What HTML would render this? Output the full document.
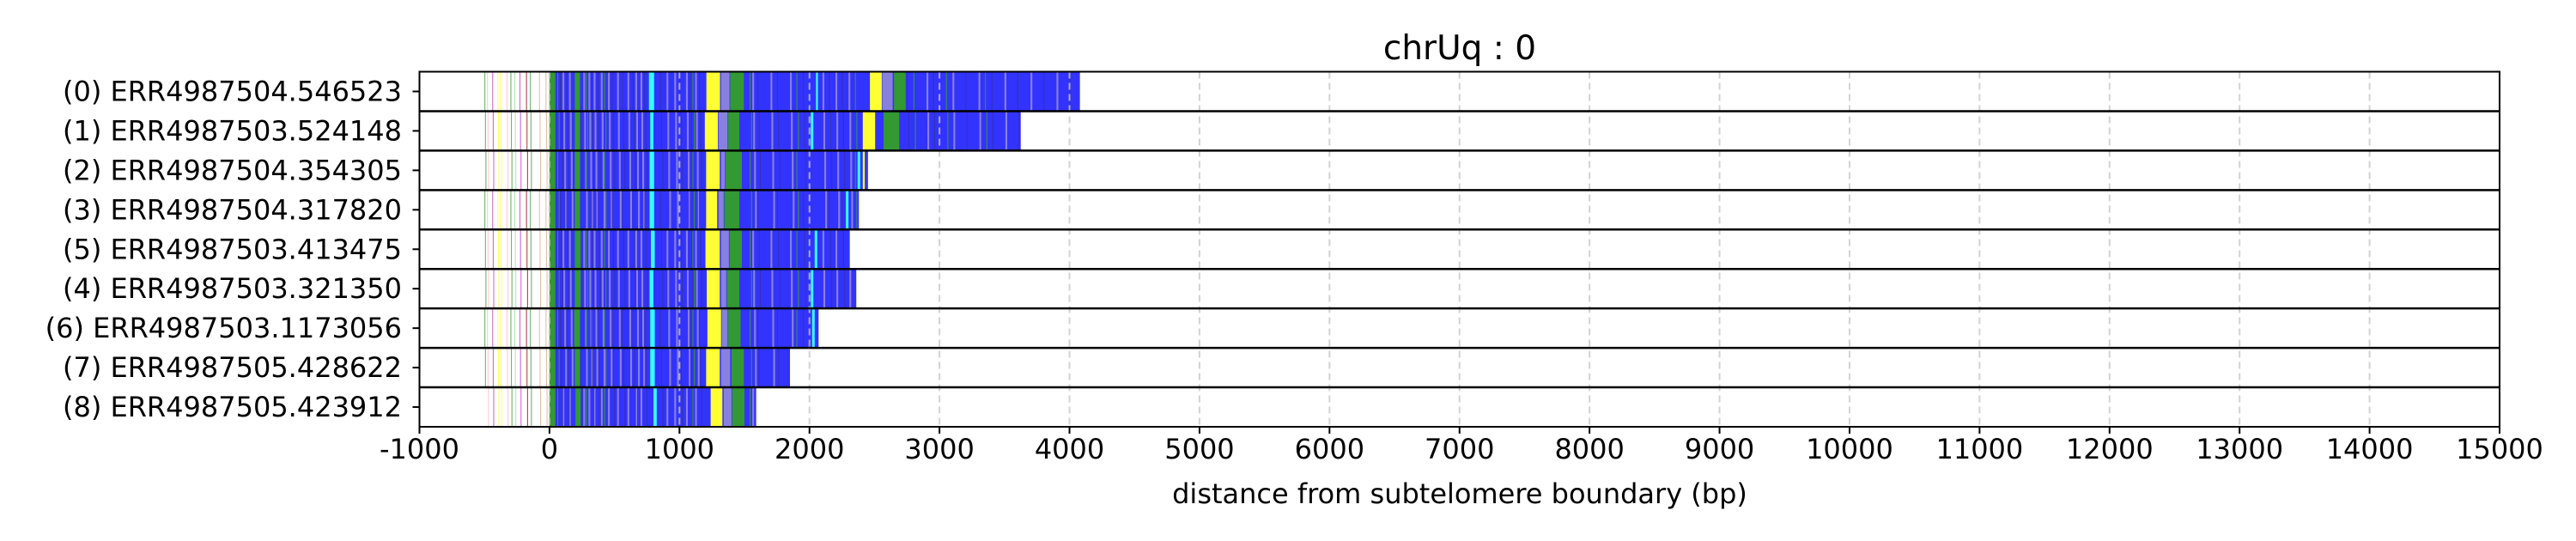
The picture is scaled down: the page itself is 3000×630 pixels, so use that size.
<!DOCTYPE html>
<html><head><meta charset="utf-8"><style>
html,body{margin:0;padding:0;background:#fff;}
svg{display:block;font-family:"DejaVu Sans","Liberation Sans",sans-serif;}
</style></head><body>
<svg id="chart" width="3000" height="630" viewBox="0 0 3000 630" xmlns="http://www.w3.org/2000/svg">
<text x="1700" y="69" font-size="39" text-anchor="middle">chrUq : 0</text>
<text x="1700" y="586" font-size="32" text-anchor="middle">distance from subtelomere boundary (bp)</text>
<g id="bars"></g><g id="grid"></g><g id="frame"></g>
</svg>
<script>
const rowLabels=["(0) ERR4987504.546523","(1) ERR4987503.524148","(2) ERR4987504.354305","(3) ERR4987504.317820","(5) ERR4987503.413475","(4) ERR4987503.321350","(6) ERR4987503.1173056","(7) ERR4987505.428622","(8) ERR4987505.423912"];
const rowEnds=[4080,3625,2450,2380,2310,2360,2070,1850,1590];
const xTicks=[-1000,0,1000,2000,3000,4000,5000,6000,7000,8000,9000,10000,11000,12000,13000,14000,15000];
// big blocks per row: [start,end,colorKey]
const rowBlocks=[
 [[0,45,"g"],[195,235,"g"],[765,805,"c"],[1207,1312,"y"],[1320,1385,"l"],[1390,1495,"g"],[2050,2065,"c"],[2465,2556,"y"],[2560,2640,"l"],[2650,2740,"g"]],
 [[0,45,"g"],[195,235,"g"],[775,800,"c"],[1195,1295,"y"],[1300,1370,"l"],[1375,1460,"g"],[2010,2030,"c"],[2410,2505,"y"],[2570,2690,"g"]],
 [[0,45,"g"],[195,235,"g"],[770,805,"c"],[1205,1310,"y"],[1320,1350,"l"],[1355,1480,"g"],[2370,2390,"c"],[2410,2425,"y"]],
 [[0,45,"g"],[195,235,"g"],[770,805,"c"],[1205,1290,"y"],[1300,1340,"l"],[1345,1460,"g"],[2280,2300,"c"]],
 [[0,45,"g"],[195,240,"g"],[780,810,"c"],[1200,1310,"y"],[1320,1380,"l"],[1385,1480,"g"],[2040,2060,"c"]],
 [[0,45,"g"],[195,240,"g"],[770,800,"c"],[1210,1310,"y"],[1320,1360,"l"],[1365,1460,"g"],[2010,2030,"c"]],
 [[0,45,"g"],[190,235,"g"],[775,810,"c"],[1215,1320,"y"],[1325,1370,"l"],[1375,1470,"g"],[2020,2040,"c"]],
 [[0,45,"g"],[195,235,"g"],[775,810,"c"],[1205,1310,"y"],[1320,1390,"l"],[1400,1495,"g"]],
 [[0,45,"g"],[200,240,"g"],[800,825,"c"],[1240,1330,"y"],[1340,1400,"l"],[1405,1500,"g"]]
];
const lavStripes=[100,150,260,300,340,395,450,520,600,660,700,900,960,1050,1120,1560,1700,1850,2100,2200,2300,2900,3100,3300,3500,3700,3900];
const darkStripes=[80,130,230,320,370,480,560,640,730,850,1000,1080,1150,1600,1750,1950,2150,2250,2750,2950,3200,3400,3600,3800,4000];
const greenStripes=[60,280,420,1100,1540,1900,2350,2800,3050,3350];
const preLines=[[-500,"g"],[-480,"p"],[-440,"m"],[-400,"y"],[-380,"y"],[-330,"p"],[-300,"g"],[-270,"lg"],[-230,"m"],[-180,"r"],[-150,"g"],[-80,"o"],[-30,"o"]];
const preStart=[-500,-500,-500,-500,-500,-540,-500,-500,-490];

const COL={b:"#3333ff",g:"#339933",c:"#33ffff",y:"#ffff33",l:"#8880dd",d:"#333399",p:"#ffb6c1",m:"#bb33bb",r:"#990000",lg:"#99dd99",o:"#ddaa88"};
const L=488.5,R=2911,T=83.5,B=497,N=rowLabels.length,RH=(B-T)/N;
const xs=v=>L+(v+1000)/16000*(R-L);
const NS="http://www.w3.org/2000/svg";
const svg=document.getElementById('chart');
function mk(tag,attrs,parent){const e=document.createElementNS(NS,tag);for(const k in attrs)e.setAttribute(k,attrs[k]);parent.appendChild(e);return e;}
const gb=document.getElementById('bars'),gg=document.getElementById('grid'),gf=document.getElementById('frame');
function stripe(a,b,y,col,parent,name,op){
  const r=mk('rect',{x:xs(a),y:y,width:Math.max(xs(b)-xs(a),1),height:RH,fill:col,opacity:op||1},parent);
  
  
}
for(let i=0;i<N;i++){
  const y=T+i*RH,end=rowEnds[i];
  const g=mk('g',{},gb);
  
  
  preLines.forEach(([p,c])=>{const pp=p+(i%3)*4;if(pp>=preStart[i])stripe(pp,pp+5,y,COL[c],g,'pre-boundary-line',0.8);});
  stripe(0,end,y,COL.b,g,'read-body');
  lavStripes.forEach(p=>{const pp=p+(i%4)*7;if(pp<end-10)stripe(pp,pp+14,y,COL.l,g,'lavender-stripe');});
  darkStripes.forEach(p=>{const pp=p+(i%3)*9;if(pp<end-5)stripe(pp,pp+6,y,COL.d,g,'dark-stripe',0.8);});
  greenStripes.forEach(p=>{const pp=p+(i%2)*11;if(pp<end-5)stripe(pp,pp+7,y,COL.g,g,'green-stripe');});
  rowBlocks[i].forEach(([a,b,c])=>{if(a<end)stripe(a,Math.min(b,end),y,COL[c],g,'block-'+c);});
  const t=mk('text',{x:468,y:y+RH/2+11,'font-size':32,'text-anchor':'end'},svg);
  t.textContent=rowLabels[i];
  
  
  const tk=mk('line',{x1:L-8,x2:L,y1:y+RH/2,y2:y+RH/2,stroke:'#000','stroke-width':2},gf);
  
  
}
xTicks.forEach(v=>{
  const x=xs(v);
  if(v>-1000&&v<15000){const l=mk('line',{x1:x,x2:x,y1:T,y2:B,stroke:'#c8c8c8','stroke-width':2,'stroke-dasharray':'8,5','stroke-opacity':0.8},gg);
  
  }
  const tk=mk('line',{x1:x,x2:x,y1:B,y2:B+8,stroke:'#000','stroke-width':2},gf);
  
  
  const t=mk('text',{x:x,y:534,'font-size':32,'text-anchor':'middle'},svg);
  t.textContent=v;
  
  
});
for(let i=1;i<N;i++){
  const y=T+i*RH;
  const l=mk('line',{x1:L,x2:R,y1:y,y2:y,stroke:'#000','stroke-width':2.5},gf);
  
  
}
const fr=mk('rect',{x:L,y:T,width:R-L,height:B-T,fill:'none',stroke:'#000','stroke-width':2},gf);


</script>
</body></html>
